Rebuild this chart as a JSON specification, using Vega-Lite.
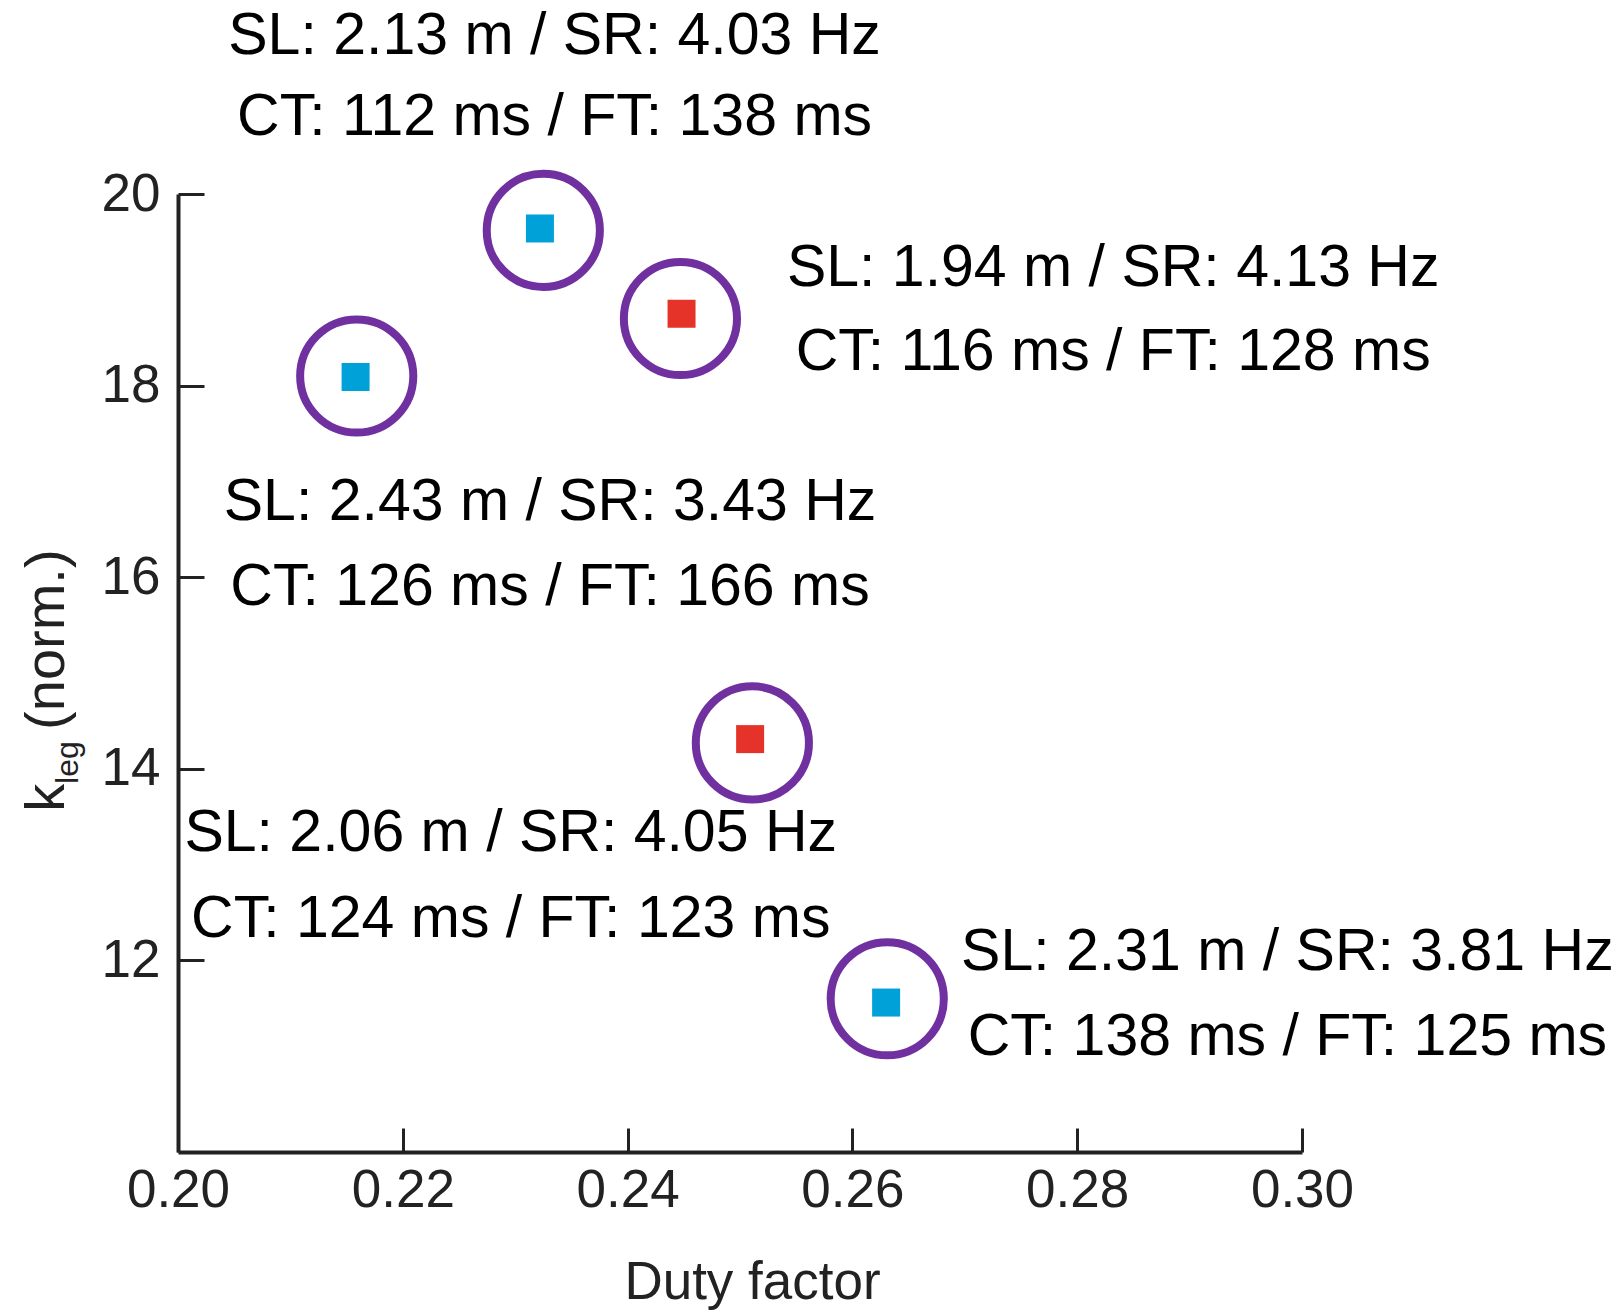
{
  "$schema": "https://vega.github.io/schema/vega-lite/v6.json",
  "autosize": {"type": "none"},
  "padding": {"left": 178, "top": 194, "right": 321, "bottom": 161},
  "width": 1124,
  "height": 958,
  "background": "white",
  "config": {
    "view": {"stroke": null},
    "font": "Liberation Sans",
    "axis": {
      "domainColor": "#222222",
      "domainWidth": 4,
      "tickColor": "#222222",
      "tickWidth": 3,
      "labelColor": "#222222",
      "titleColor": "#222222",
      "labelFont": "Liberation Sans",
      "titleFont": "Liberation Sans",
      "labelFontSize": 53,
      "titleFontSize": 53,
      "titleFontWeight": "normal",
      "labelFlush": false,
      "labelOverlap": false,
      "grid": false
    }
  },
  "datasets": {
    "points": [
      {"duty": 0.2322, "kleg": 19.64, "ring_duty": 0.2325, "ring_kleg": 19.62, "series": "A"},
      {"duty": 0.2448, "kleg": 18.75, "ring_duty": 0.2447, "ring_kleg": 18.70, "series": "B"},
      {"duty": 0.2158, "kleg": 18.09, "ring_duty": 0.2159, "ring_kleg": 18.10, "series": "A"},
      {"duty": 0.2509, "kleg": 14.31, "ring_duty": 0.2511, "ring_kleg": 14.27, "series": "B"},
      {"duty": 0.2630, "kleg": 11.56, "ring_duty": 0.2631, "ring_kleg": 11.60, "series": "A"}
    ],
    "labels": [
      {"lx": 0.2335, "ly": 21.65, "label": "SL: 2.13 m / SR: 4.03 Hz"},
      {"lx": 0.2335, "ly": 20.80, "label": "CT: 112 ms / FT: 138 ms"},
      {"lx": 0.2832, "ly": 19.23, "label": "SL: 1.94 m / SR: 4.13 Hz"},
      {"lx": 0.2832, "ly": 18.35, "label": "CT: 116 ms / FT: 128 ms"},
      {"lx": 0.2331, "ly": 16.79, "label": "SL: 2.43 m / SR: 3.43 Hz"},
      {"lx": 0.2331, "ly": 15.90, "label": "CT: 126 ms / FT: 166 ms"},
      {"lx": 0.2296, "ly": 13.33, "label": "SL: 2.06 m / SR: 4.05 Hz"},
      {"lx": 0.2296, "ly": 12.43, "label": "CT: 124 ms / FT: 123 ms"},
      {"lx": 0.2987, "ly": 12.09, "label": "SL: 2.31 m / SR: 3.81 Hz"},
      {"lx": 0.2987, "ly": 11.20, "label": "CT: 138 ms / FT: 125 ms"}
    ],
    "ytitle_main": [
      {"tx": 0.18985, "ty": 13.551, "part": "k"},
      {"tx": 0.18985, "ty": 14.406, "part": "(norm.)"}
    ],
    "ytitle_sub": [
      {"tx": 0.19110, "ty": 13.842, "part": "leg"}
    ]
  },
  "layer": [
    {
      "data": {"name": "points"},
      "mark": {"type": "point", "shape": "circle", "filled": false, "stroke": "#7030A0", "strokeWidth": 8, "size": 12800, "opacity": 1},
      "encoding": {
        "x": {
          "field": "ring_duty", "type": "quantitative",
          "scale": {"domain": [0.20, 0.30], "nice": false, "zero": false},
          "axis": {
            "title": "Duty factor",
            "values": [0.20, 0.22, 0.24, 0.26, 0.28, 0.30],
            "format": ".2f",
            "tickSize": -24,
            "labelPadding": 36,
            "titleBaseline": "alphabetic",
            "titleAlign": "center",
            "titleX": 574,
            "titleY": 146
          }
        },
        "y": {
          "field": "ring_kleg", "type": "quantitative",
          "scale": {"domain": [10, 20], "nice": false, "zero": false},
          "axis": {
            "title": null,
            "values": [12, 14, 16, 18, 20],
            "format": "d",
            "tickSize": -26,
            "labelPadding": 44
          }
        }
      }
    },
    {
      "data": {"name": "points"},
      "mark": {"type": "square", "size": 784, "opacity": 1},
      "encoding": {
        "x": {"field": "duty", "type": "quantitative"},
        "y": {"field": "kleg", "type": "quantitative"},
        "color": {
          "field": "series", "type": "nominal",
          "scale": {"domain": ["A", "B"], "range": ["#00A0D8", "#E5332A"]},
          "legend": null
        }
      }
    },
    {
      "data": {"name": "labels"},
      "mark": {"type": "text", "font": "Liberation Sans", "fontSize": 59, "color": "#000000", "align": "center", "baseline": "middle"},
      "encoding": {
        "x": {"field": "lx", "type": "quantitative"},
        "y": {"field": "ly", "type": "quantitative"},
        "text": {"field": "label"}
      }
    },
    {
      "data": {"name": "ytitle_main"},
      "mark": {"type": "text", "font": "Liberation Sans", "fontSize": 56, "color": "#222222", "align": "left", "baseline": "alphabetic", "angle": 270},
      "encoding": {
        "x": {"field": "tx", "type": "quantitative"},
        "y": {"field": "ty", "type": "quantitative"},
        "text": {"field": "part"}
      }
    },
    {
      "data": {"name": "ytitle_sub"},
      "mark": {"type": "text", "font": "Liberation Sans", "fontSize": 32, "color": "#222222", "align": "left", "baseline": "alphabetic", "angle": 270},
      "encoding": {
        "x": {"field": "tx", "type": "quantitative"},
        "y": {"field": "ty", "type": "quantitative"},
        "text": {"field": "part"}
      }
    }
  ]
}
